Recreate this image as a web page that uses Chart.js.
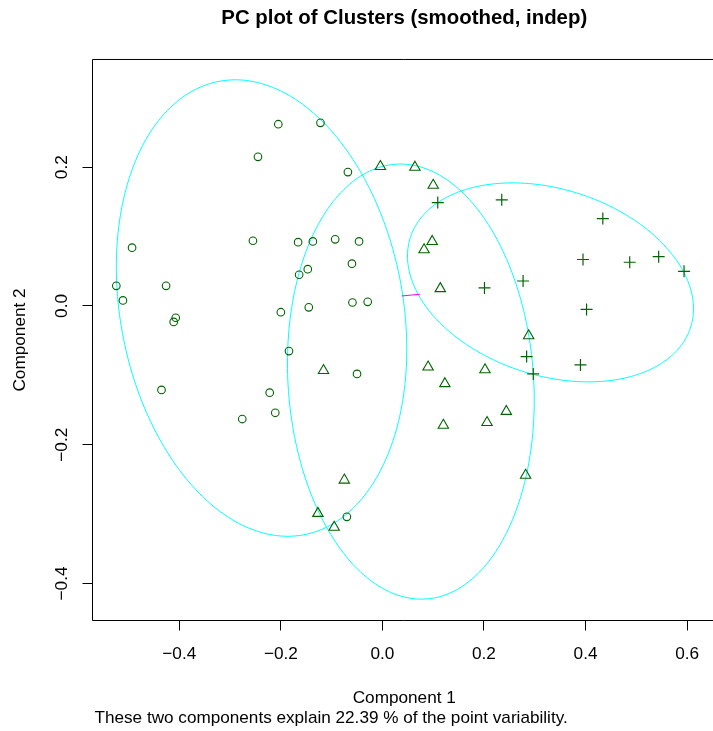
<!DOCTYPE html>
<html><head><meta charset="utf-8">
<script src="https://cdn.jsdelivr.net/npm/chart.js@4"></script>
<style>html,body{margin:0;padding:0;overflow:hidden;background:#fff;width:713px;height:731px}canvas{display:block}</style>
</head><body>
<canvas id="c" width="713" height="731" style="width:713px;height:731px"></canvas>
<script>
const chartTitle = "PC plot of Clusters (smoothed, indep)";
const xAxisTitle = "Component 1";
const yAxisTitle = "Component 2";
const footnote = "These two components explain 22.39 % of the point variability.";

const xTickValues = [-0.4, -0.2, 0, 0.2, 0.4, 0.6];
const xTickLabels = ["\u22120.4", "\u22120.2", "0.0", "0.2", "0.4", "0.6"];
const yTickValues = [-0.4, -0.2, 0, 0.2];
const yTickLabels = ["\u22120.4", "\u22120.2", "0.0", "0.2"];
const xRange = [-0.5709, 0.6569];
const yRange = [-0.4534, 0.3553];

// cluster 1 (circles)
const cluster1X = [-0.205,-0.122,-0.245,-0.068,-0.493,-0.255,-0.166,-0.137,-0.093,-0.046,-0.060,-0.147,-0.164,-0.524,-0.426,-0.511,-0.059,-0.029,-0.145,-0.200,-0.407,-0.411,-0.184,-0.435,-0.222,-0.050,-0.211,-0.276,-0.070];
const cluster1Y = [0.262,0.264,0.215,0.193,0.084,0.094,0.092,0.093,0.096,0.093,0.061,0.053,0.045,0.029,0.029,0.008,0.005,0.006,-0.002,-0.009,-0.017,-0.023,-0.065,-0.121,-0.125,-0.098,-0.154,-0.163,-0.304];
// cluster 2 (triangles)
const cluster2X = [-0.004,0.064,0.100,0.098,0.082,0.114,0.288,0.090,0.202,0.123,-0.116,0.244,0.120,0.206,0.282,-0.075,-0.127,-0.095];
const cluster2Y = [0.201,0.200,0.174,0.093,0.081,0.025,-0.043,-0.088,-0.092,-0.112,-0.093,-0.152,-0.172,-0.168,-0.244,-0.251,-0.299,-0.319];
// cluster 3 (crosses)
const cluster3X = [0.109,0.235,0.434,0.395,0.487,0.544,0.594,0.277,0.201,0.402,0.284,0.297,0.390];
const cluster3Y = [0.149,0.153,0.126,0.067,0.063,0.071,0.050,0.036,0.026,-0.005,-0.073,-0.098,-0.085];

// cluster ellipses: centre, x / y half-extent, correlation
const ellipseCenterX = [-0.238, 0.056, 0.331];
const ellipseCenterY = [-0.003, -0.109, 0.034];
const ellipseSpreadX = [0.286, 0.243, 0.2816];
const ellipseSpreadY = [0.329, 0.3136, 0.1434];
const ellipseCorr = [-0.18, -0.085, -0.265];

// link between the two separated ellipses
const linkX = [0.038, 0.074];
const linkY = [0.0144, 0.0169];

const FONT = "'Liberation Sans', Arial, Helvetica, sans-serif";
const BASE = 17.2;
const PLOT_RIGHT = 716; // the plot box runs a little past the right edge of the page
const pts = (xs, ys) => xs.map((v, i) => ({x: v, y: ys[i]}));

const extendPlugin = {
  id: 'extendRight',
  afterLayout(chart) {
    const a = chart.chartArea;
    a.right = PLOT_RIGHT; a.width = PLOT_RIGHT - a.left;
    const xs = chart.scales.x;
    xs.right = PLOT_RIGHT; xs.width = PLOT_RIGHT - xs.left;
    xs._labelItems = null; xs._gridLineItems = null;
    xs.configure();
    const tb = chart.titleBlock;
    if (tb) { tb.right = PLOT_RIGHT; tb.width = PLOT_RIGHT - tb.left; }
  }
};

const ellipsePlugin = {
  id: 'ellipses',
  beforeDatasetsDraw(chart) {
    const {ctx, chartArea: a} = chart;
    const xs = chart.scales.x, ys = chart.scales.y;
    ctx.save();
    ctx.beginPath();
    ctx.rect(a.left, a.top, a.right - a.left, a.bottom - a.top);
    ctx.clip();
    ctx.strokeStyle = '#00FFFF';
    ctx.lineWidth = 1;
    for (let i = 0; i < ellipseCenterX.length; i++) {
      const r = ellipseCorr[i], q = Math.sqrt(1 - r * r);
      ctx.beginPath();
      const n = 240;
      for (let k = 0; k <= n; k++) {
        const t = 2 * Math.PI * k / n;
        const vx = ellipseCenterX[i] + ellipseSpreadX[i] * Math.cos(t);
        const vy = ellipseCenterY[i] + ellipseSpreadY[i] * (r * Math.cos(t) + q * Math.sin(t));
        const px = xs.getPixelForValue(vx), py = ys.getPixelForValue(vy);
        if (k === 0) ctx.moveTo(px, py); else ctx.lineTo(px, py);
      }
      ctx.closePath();
      ctx.stroke();
    }
    ctx.restore();
  }
};

const framePlugin = {
  id: 'frame',
  afterDraw(chart) {
    const {ctx, chartArea: a} = chart;
    ctx.save();
    ctx.strokeStyle = '#000';
    ctx.lineWidth = 1;
    ctx.beginPath();
    ctx.moveTo(a.right, a.top);
    ctx.lineTo(a.left, a.top);
    ctx.lineTo(a.left, a.bottom);
    ctx.lineTo(a.right, a.bottom);
    ctx.stroke();
    ctx.fillStyle = '#000';
    ctx.font = "17.15px " + FONT;
    ctx.textAlign = 'left';
    ctx.textBaseline = 'alphabetic';
    ctx.fillText(footnote, 94.5, 722.5);
    ctx.restore();
  }
};

new Chart(document.getElementById('c'), {
  type: 'scatter',
  data: {
    datasets: [
      {data: pts(linkX, linkY), type: 'line', showLine: true, borderColor: '#FF00FF', borderWidth: 1, pointRadius: 0, fill: false},
      {data: pts(cluster1X, cluster1Y), pointStyle: 'circle', pointRadius: 3.8, borderColor: '#006400', backgroundColor: 'rgba(0,0,0,0)', borderWidth: 1.1},
      {data: pts(cluster2X, cluster2Y), pointStyle: 'triangle', pointRadius: 6, borderColor: '#006400', backgroundColor: 'rgba(0,0,0,0)', borderWidth: 1.1},
      {data: pts(cluster3X, cluster3Y), pointStyle: 'cross', pointRadius: 6, borderColor: '#006400', backgroundColor: 'rgba(0,0,0,0)', borderWidth: 1.2}
    ]
  },
  options: {
    responsive: false,
    devicePixelRatio: 1,
    animation: false,
    events: [],
    layout: {autoPadding: false, padding: {left: 0, right: 0, top: 0, bottom: 0}},
    plugins: {
      legend: {display: false},
      tooltip: {enabled: false},
      title: {display: true, text: chartTitle, fullSize: false, color: '#000',
        font: {family: FONT, size: 20.4, weight: 'bold'}, padding: {top: 6.2, bottom: 28.8}}
    },
    scales: {
      x: {
        type: 'linear', min: xRange[0], max: xRange[1],
        afterBuildTicks: s => { s.ticks = xTickValues.map(v => ({value: v})); },
        afterFit: s => { s.height = 110.5; s.paddingLeft = 0; s.paddingRight = 0; },
        grid: {display: true, drawOnChartArea: false, drawTicks: true, tickLength: 10, color: '#000', lineWidth: 1},
        border: {display: false},
        ticks: {callback: (v, i) => xTickLabels[i], autoSkip: false, maxRotation: 0, minRotation: 0,
          font: {family: FONT, size: BASE}, color: '#000', padding: 13.3},
        title: {display: true, text: xAxisTitle, color: '#000', font: {family: FONT, size: BASE}, padding: {top: 0, bottom: 22.6}}
      },
      y: {
        type: 'linear', min: yRange[0], max: yRange[1],
        afterBuildTicks: s => { s.ticks = yTickValues.map(v => ({value: v})); },
        afterFit: s => { s.width = 92.5; s.paddingTop = 0; s.paddingBottom = 0; },
        grid: {display: true, drawOnChartArea: false, drawTicks: true, tickLength: 10, color: '#000', lineWidth: 1},
        border: {display: false},
        ticks: {callback: (v, i) => yTickLabels[i], autoSkip: false, minRotation: 90, maxRotation: 90, crossAlign: 'center',
          font: {family: FONT, size: BASE}, color: '#000', padding: 3.5},
        title: {display: true, text: yAxisTitle, color: '#000', font: {family: FONT, size: BASE}, padding: {top: 9.6, bottom: 0}}
      }
    }
  },
  plugins: [extendPlugin, ellipsePlugin, framePlugin]
});
</script>
</body></html>
